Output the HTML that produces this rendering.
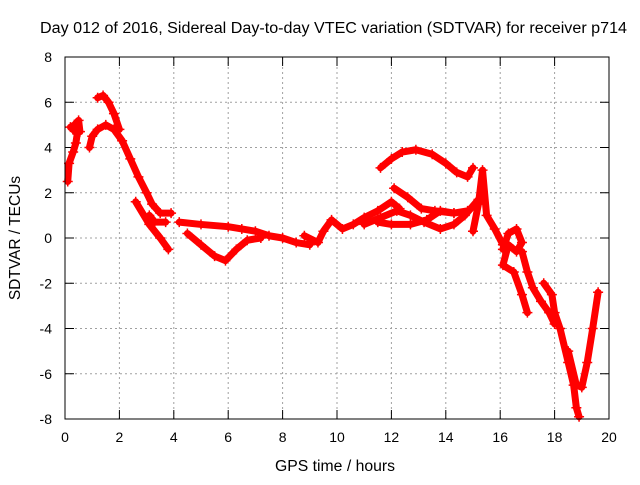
<!DOCTYPE html>
<html><head><meta charset="utf-8"><style>
body{margin:0;background:#fff}
svg text{font-family:"Liberation Sans",sans-serif;font-size:14px;fill:#000}
</style></head><body>
<svg id="c" width="640" height="480" xmlns="http://www.w3.org/2000/svg">
<text x="40" y="33" textLength="587" lengthAdjust="spacingAndGlyphs" style="font-size:15.5px">Day 012 of 2016, Sidereal Day-to-day VTEC variation (SDTVAR) for receiver p714</text>
<text x="275" y="471" textLength="120" lengthAdjust="spacingAndGlyphs" style="font-size:15.5px">GPS time / hours</text>
<text x="20" y="238" text-anchor="middle" transform="rotate(-90 20 238)" style="font-size:15.5px">SDTVAR / TECUs</text>
<g id="grid"></g><g id="marks"></g>
<rect x="65" y="57" width="544" height="362" fill="none" stroke="#000" stroke-width="1"/>
</svg>
<script>
const xTicks=[0,2,4,6,8,10,12,14,16,18,20];
const yTicks=[-8,-6,-4,-2,0,2,4,6,8];
const sA=[[0.1,2.5],[0.15,3.3],[0.3,3.8],[0.4,4.2],[0.45,4.6],[0.3,4.8],[0.2,4.9],[0.35,5.0],[0.5,5.2],[0.55,4.7]];
const sB=[[0.9,4.0],[1.0,4.5],[1.2,4.8],[1.5,5.0],[1.8,4.8],[2.1,4.3],[2.4,3.5],[2.7,2.7],[3.0,2.0],[3.2,1.5],[3.5,1.1],[3.9,1.1]];
const sB2=[[3.1,1.0],[3.3,0.7],[3.7,0.7]];
const sB3=[[2.6,1.6],[3.1,0.6],[3.5,0.0],[3.8,-0.5]];
const sC=[[1.2,6.2],[1.4,6.3],[1.6,6.0],[1.8,5.5],[2.0,4.8]];
const sD=[[4.2,0.7],[5.0,0.6],[6.0,0.5],[6.5,0.4],[7.0,0.3],[7.5,0.1],[8.0,0.0],[8.5,-0.2],[9.0,-0.3]];
const sE=[[4.5,0.2],[5.0,-0.3],[5.5,-0.8],[5.9,-1.0],[6.3,-0.5],[6.7,-0.1],[7.2,0.0]];
const sF=[[8.8,0.1],[9.3,-0.2],[9.5,0.3],[9.8,0.8],[10.2,0.4],[10.6,0.6],[11.0,0.9],[11.5,1.2],[12.0,1.6],[12.3,1.3]];
const sG=[[11.6,3.1],[12.0,3.5],[12.4,3.8],[12.9,3.9],[13.5,3.7],[14.0,3.3],[14.4,2.9],[14.8,2.7],[15.0,3.1]];
const sH=[[11.0,0.6],[11.6,0.9],[12.2,1.2],[12.7,1.0],[13.2,0.7],[13.8,0.4],[14.3,0.6],[14.7,1.0],[15.2,1.7]];
const sI=[[11.5,0.7],[12.0,0.6],[12.7,0.6],[13.3,0.8],[13.8,1.2],[14.3,1.1],[14.8,1.2]];
const sJ=[[12.1,2.2],[12.6,1.8],[13.1,1.3],[13.6,1.2],[14.3,1.1]];
const sK=[[15.0,0.3],[15.2,1.5],[15.35,3.0],[15.5,1.0],[15.8,0.4],[16.1,-0.3]];
const sL=[[16.1,-0.5],[16.3,0.2],[16.6,0.4],[16.8,-0.2],[16.6,-0.6],[16.3,-0.3],[16.1,-1.2],[16.5,-1.5],[16.8,-2.5],[17.0,-3.3]];
const sM=[[16.8,-0.6],[17.0,-1.5],[17.2,-2.2],[17.5,-2.8],[17.8,-3.3],[18.0,-3.8]];
const sN=[[17.6,-2.0],[17.9,-2.5],[18.0,-3.3],[18.2,-4.0],[18.5,-5.5],[18.7,-6.5],[18.8,-7.5],[18.9,-7.9]];
const sO=[[18.5,-5.0],[18.8,-6.5],[19.0,-6.6],[19.2,-5.5],[19.4,-4.0],[19.6,-2.4]];
const series=[sA,sB,sB2,sB3,sC,sD,sE,sF,sG,sH,sI,sJ,sK,sL,sM,sN,sO];
const X=v=>65+v*(544/20), Y=v=>238-v*(362/16);
const NS="http://www.w3.org/2000/svg";
const grid=document.getElementById('grid'), marks=document.getElementById('marks');
function mk(t,a,p){const e=document.createElementNS(NS,t);for(const k in a)e.setAttribute(k,a[k]);p.appendChild(e);return e;}
xTicks.forEach(v=>{
 const g=mk('line',{x1:X(v),x2:X(v),y1:57,y2:419,stroke:'#a0a0a0','stroke-dasharray':'2,3'},grid);
 
 
 mk('line',{x1:X(v),x2:X(v),y1:419,y2:410,stroke:'#000'},grid);
 mk('line',{x1:X(v),x2:X(v),y1:57,y2:66,stroke:'#000'},grid);
 const t=mk('text',{x:X(v),y:442,'text-anchor':'middle'},grid);t.textContent=v;
 
 
});
yTicks.forEach(v=>{
 const g=mk('line',{x1:65,x2:609,y1:Y(v),y2:Y(v),stroke:'#a0a0a0','stroke-dasharray':'2,3'},grid);
 
 
 mk('line',{x1:65,x2:74,y1:Y(v),y2:Y(v),stroke:'#000'},grid);
 mk('line',{x1:600,x2:609,y1:Y(v),y2:Y(v),stroke:'#000'},grid);
 const t=mk('text',{x:52,y:Y(v)+5,'text-anchor':'end'},grid);t.textContent=v;
 
 
});
series.forEach(s=>{
 const p=mk('polyline',{points:s.map(d=>X(d[0])+','+Y(d[1])).join(' '),fill:'none',stroke:'#ff0000','stroke-width':7,'stroke-linejoin':'round','stroke-linecap':'round'},marks);
 
 
 s.forEach(d=>{
  const m=mk('path',{d:`M${X(d[0])-5},${Y(d[1])}h10M${X(d[0])},${Y(d[1])-5}v10`,stroke:'#ff0000','stroke-width':1.5},marks);
  
  
 });
});
</script>
</body></html>
